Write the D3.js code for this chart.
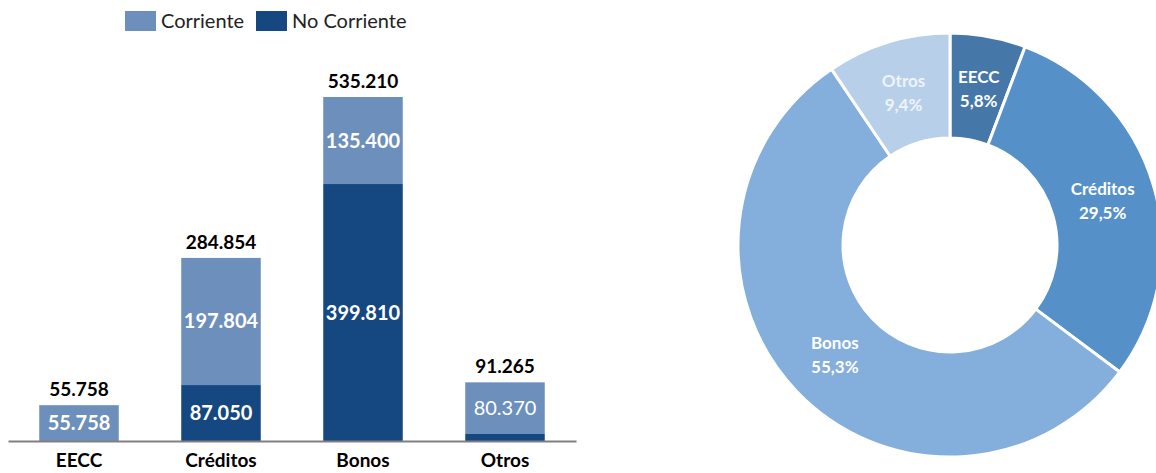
<!DOCTYPE html>
<html>
<head>
<meta charset="utf-8">
<script src="https://cdn.jsdelivr.net/npm/d3@7"></script>
<style>
  body { margin: 0; background: #fff; }
  svg { font-family: Lato, "Open Sans", sans-serif; }
</style>
</head>
<body>
<div id="viz"></div>
<script>
// data
const categories = ["EECC", "Créditos", "Bonos", "Otros"];
const corriente = [55758, 197804, 135400, 80370];
const noCorriente = [0, 87050, 399810, 10895];
const seriesNames = ["Corriente", "No Corriente"];

const colCorr = "#6d8fbc";
const colNoCorr = "#154781";
const pieColors = ["#4677a9", "#5591c8", "#84aedb", "#b8cfea"];

const locale = d3.formatLocale({ decimal: ",", thousands: ".", grouping: [3], currency: ["", ""] });
const fmt = locale.format(",d");
const pct = locale.format(".1f");

let width = 1156, height = 473;

let svg = d3.select("#viz").append("svg")
  .attr("width", width)
  .attr("height", height);

let data = categories.map((c, i) => ({
  cat: c,
  corr: corriente[i],
  noCorr: noCorriente[i],
  total: corriente[i] + noCorriente[i]
}));

/********** Bar chart **********/
let xScale = d3.scaleBand()
  .domain(categories)
  .range([8, 576])
  .paddingInner(0.44)
  .paddingOuter(0.22);

let yScale = d3.scaleLinear()
  .domain([0, d3.max(data, d => d.total)])
  .range([441, 97]);

// no corriente (bottom)
svg.append("g").selectAll("rect")
  .data(data.filter(d => d.noCorr > 0))
  .enter().append("rect")
  .attr("x", d => xScale(d.cat))
  .attr("width", xScale.bandwidth())
  .attr("y", d => yScale(d.noCorr))
  .attr("height", d => yScale(0) - yScale(d.noCorr))
  .attr("fill", colNoCorr);

// corriente (top)
svg.append("g").selectAll("rect")
  .data(data)
  .enter().append("rect")
  .attr("x", d => xScale(d.cat))
  .attr("width", xScale.bandwidth())
  .attr("y", d => yScale(d.total))
  .attr("height", d => yScale(d.noCorr) - yScale(d.total))
  .attr("fill", colCorr);

// segment labels
svg.append("g").selectAll("text")
  .data(data)
  .enter().append("text")
  .attr("x", d => xScale(d.cat) + xScale.bandwidth() / 2)
  .attr("y", d => (yScale(d.total) + yScale(d.noCorr)) / 2 + 7)
  .attr("text-anchor", "middle")
  .attr("fill", "#fff")
  .style("font-size", "20px")
  .style("font-weight", d => d.cat === "Otros" ? "normal" : "bold")
  .text(d => fmt(d.corr));

svg.append("g").selectAll("text")
  .data(data.filter(d => d.noCorr > 30000))
  .enter().append("text")
  .attr("x", d => xScale(d.cat) + xScale.bandwidth() / 2)
  .attr("y", d => (yScale(d.noCorr) + yScale(0)) / 2 + 7)
  .attr("text-anchor", "middle")
  .attr("fill", "#fff")
  .style("font-size", "20px")
  .style("font-weight", "bold")
  .text(d => fmt(d.noCorr));

// totals
svg.append("g").selectAll("text")
  .data(data)
  .enter().append("text")
  .attr("x", d => xScale(d.cat) + xScale.bandwidth() / 2)
  .attr("y", d => yScale(d.total) - 9)
  .attr("text-anchor", "middle")
  .attr("fill", "#000")
  .style("font-size", "19px")
  .style("font-weight", "bold")
  .text(d => fmt(d.total));

// axis
let xAxis = svg.append("g")
  .attr("transform", `translate(0,${yScale(0)})`)
  .call(d3.axisBottom(xScale).tickSize(0).tickPadding(13));
xAxis.select(".domain").attr("stroke", "#808080").attr("stroke-width", 2);
xAxis.selectAll("text")
  .style("font-family", "Lato, sans-serif")
  .style("font-size", "19px")
  .style("font-weight", "bold")
  .attr("fill", "#000");

// legend
let legend = svg.append("g");
let legX = [125, 256];
seriesNames.forEach((s, i) => {
  legend.append("rect")
    .attr("x", legX[i]).attr("y", 11)
    .attr("width", 31).attr("height", 20)
    .attr("fill", i === 0 ? colCorr : colNoCorr);
  legend.append("text")
    .attr("x", legX[i] + 36).attr("y", 28)
    .style("font-size", "20px")
    .attr("fill", "#222")
    .text(s);
});

/********** Donut **********/
let grand = d3.sum(data, d => d.total);
let pie = d3.pie().sort(null).value(d => d.total);
let arc = d3.arc().innerRadius(107).outerRadius(212);
let labelArc = d3.arc().innerRadius(159).outerRadius(159);

let donut = svg.append("g").attr("transform", "translate(950,245)");

donut.selectAll("path")
  .data(pie(data))
  .enter().append("path")
  .attr("d", arc)
  .attr("fill", (d, i) => pieColors[i])
  .attr("stroke", "#fff")
  .attr("stroke-width", 3);

let labels = donut.selectAll(".lbl")
  .data(pie(data))
  .enter().append("text")
  .attr("class", "lbl")
  .attr("transform", d => `translate(${labelArc.centroid(d)})`)
  .attr("text-anchor", "middle")
  .attr("fill", (d, i) => i === 3 ? "#eef3fa" : "#fff")
  .style("font-size", "17px")
  .style("font-weight", "bold");
labels.append("tspan").attr("x", 0).attr("y", -6).text(d => d.data.cat);
labels.append("tspan").attr("x", 0).attr("y", 18).text(d => pct(d.data.total / grand * 100) + "%");
</script>
</body>
</html>
